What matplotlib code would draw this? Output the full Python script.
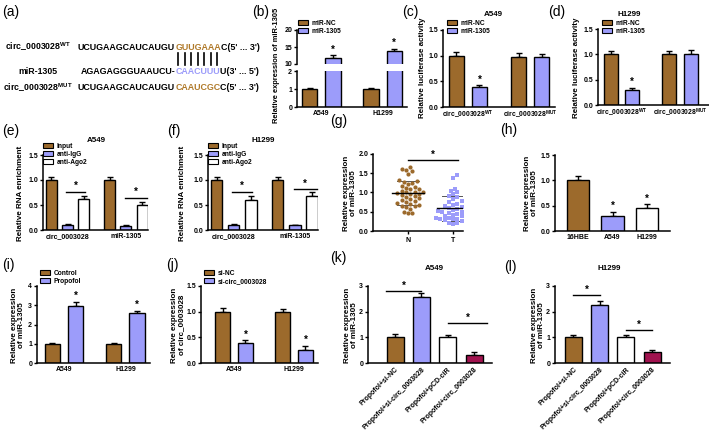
import numpy as np
import matplotlib
matplotlib.use("Agg")
import matplotlib.pyplot as plt
from matplotlib.patches import Patch

W, H = 709, 434
BROWN = "#9C6A2C"
LAV = "#9C9CFA"
CRIMSON = "#A1134F"
ORANGE = "#B07A2A"

plt.rcParams['font.family'] = ['Liberation Sans', 'DejaVu Sans']
plt.rcParams['font.weight'] = 'bold'
plt.rcParams['mathtext.fontset'] = 'custom'
plt.rcParams['mathtext.rm'] = 'Liberation Sans:bold'
plt.rcParams['mathtext.bf'] = 'Liberation Sans:bold'
plt.rcParams['mathtext.it'] = 'Liberation Sans:bold'

TICK, LABEL, LEG, STAR = 5.0, 5.8, 4.8, 7

# ---- data ----
# (a) binding sequences
seq_wt = ["UCUGAAGCAUCAUGU", "GUUGAAA", "C(5' ... 3')"]
seq_mir = ["AGAGAGGGUAAUCU-", "CAACUUU", "U(3' ... 5')"]
seq_mut = ["UCUGAAGCAUCAUGU", "CAAUCGC", "C(5' ... 3')"]

# (b)
b_cells = ["A549", "H1299"]
b_nc, b_nc_err = [1.0, 1.0], [0.06, 0.05]
b_mir, b_mir_err = [11.7, 13.7], [0.9, 0.8]

# (c), (d)
luc_groups = [r"circ_0003028$^{\mathbf{WT}}$", r"circ_0003028$^{\mathbf{MUT}}$"]
c_nc, c_nc_err = [1.0, 0.98], [0.08, 0.08]
c_mir, c_mir_err = [0.38, 0.98], [0.04, 0.06]
d_nc, d_nc_err = [1.0, 1.0], [0.07, 0.07]
d_mir, d_mir_err = [0.29, 1.0], [0.05, 0.08]

# (e), (f)
rip_groups = ["circ_0003028", "miR-1305"]
e_input, e_input_err = [1.0, 1.0], [0.07, 0.07]
e_igg, e_igg_err = [0.1, 0.09], [0.03, 0.02]
e_ago2, e_ago2_err = [0.62, 0.5], [0.06, 0.07]
f_input, f_input_err = [1.0, 1.0], [0.07, 0.07]
f_igg, f_igg_err = [0.1, 0.1], [0.03, 0.01]
f_ago2, f_ago2_err = [0.6, 0.68], [0.08, 0.08]

# (g)
g_normal = [1.65, 1.62, 1.58, 1.55, 1.48, 1.32, 1.30, 1.28, 1.25, 1.22, 1.18, 1.15, 1.12, 1.10,
            1.08, 1.05, 1.02, 1.00, 1.00, 0.98, 0.97, 0.95, 0.93, 0.90, 0.88, 0.85, 0.82, 0.80,
            0.78, 0.75, 0.72, 0.70, 0.68, 0.66, 0.65, 0.62, 0.58, 0.50, 0.48, 0.47]
g_tumor = [1.45, 1.38, 1.10, 1.05, 1.00, 0.95, 0.90, 0.88, 0.82, 0.78, 0.75, 0.70, 0.68, 0.65,
           0.62, 0.60, 0.58, 0.55, 0.55, 0.52, 0.50, 0.50, 0.48, 0.45, 0.45, 0.42, 0.40, 0.38,
           0.35, 0.33, 0.32, 0.30, 0.30, 0.30, 0.28, 0.28, 0.25, 0.22, 0.20, 0.18]

# (h)
h_cells = ["16HBE", "A549", "H1299"]
h_vals, h_err = [1.0, 0.3, 0.45], [0.08, 0.08, 0.08]

# (i), (j)
i_ctrl, i_ctrl_err = [1.0, 1.0], [0.06, 0.04]
i_prop, i_prop_err = [2.95, 2.6], [0.22, 0.1]
j_nc, j_nc_err = [1.0, 1.0], [0.07, 0.05]
j_si, j_si_err = [0.38, 0.25], [0.06, 0.09]

# (k), (l)
rescue_groups = ["Propofol+si-NC", "Propofol+si-circ_0003028", "Propofol+pCD-ciR", "Propofol+circ_0003028"]
k_vals, k_err = [1.0, 2.58, 1.0, 0.31], [0.12, 0.13, 0.09, 0.12]
l_vals, l_err = [1.0, 2.26, 1.0, 0.42], [0.08, 0.16, 0.08, 0.08]
rescue_colors = [BROWN, LAV, "white", CRIMSON]

fig = plt.figure(figsize=(W / 100, H / 100), dpi=100)


def px_axes(x0, x1, y0, y1):
    return fig.add_axes([x0 / W, 1 - y1 / H, (x1 - x0) / W, (y1 - y0) / H])


def ftext(x, y, s, **kw):
    return fig.text(x / W, 1 - y / H, s, **kw)


def style(ax):
    for s in ("top", "right"):
        ax.spines[s].set_visible(False)
    for s in ("left", "bottom"):
        ax.spines[s].set_linewidth(1.1)
    ax.tick_params(axis='y', length=2.5, width=1.0, labelsize=TICK, pad=1.0)
    ax.tick_params(axis='x', length=0, labelsize=TICK, pad=2)


def bars(ax, xs, vals, errs, color, width):
    ax.bar(xs, vals, width, color=color, edgecolor='black', linewidth=1.0, zorder=2)
    ax.errorbar(xs, vals, yerr=[np.zeros(len(vals)), errs], fmt='none', ecolor='black',
                elinewidth=1.0, capsize=2.3, capthick=1.0, zorder=1)


def star(ax, x, y, dy=0.5):
    ax.annotate('*', (x, y), xytext=(0, dy), textcoords='offset points',
                ha='center', va='bottom', fontsize=STAR, annotation_clip=False)


def sig(ax, x0, x1, y):
    ax.plot([x0, x1], [y, y], color='black', lw=1.0, clip_on=False)
    star(ax, (x0 + x1) / 2, y, 0.3)


def legend(x, y, labels, colors):
    handles = [Patch(facecolor=c, edgecolor='black', linewidth=0.8) for c in colors]
    fig.legend(handles, labels, loc='upper left', bbox_to_anchor=(x / W, 1 - y / H),
               frameon=False, fontsize=LEG, handlelength=1.5, handleheight=0.7,
               handletextpad=0.5, labelspacing=0.15, borderpad=0, borderaxespad=0)


def ylab(x, y, s, size=LABEL):
    ftext(x, y, s, rotation=90, ha='center', va='center', fontsize=size,
          linespacing=0.95, multialignment='center')


# ---- panel letters ----
for lab, (x, y) in {"(a)": (2, 12), "(b)": (252, 12), "(c)": (402, 12), "(d)": (548, 12),
                    "(e)": (2, 131), "(f)": (167, 131), "(g)": (330, 121), "(h)": (500, 130),
                    "(i)": (2, 265), "(j)": (166, 265), "(k)": (330, 258), "(l)": (504, 267)}.items():
    ftext(x, y, lab, fontsize=10, fontweight='normal', va='center', ha='left')

# ---- (a) ----
renderer = fig.canvas.get_renderer()
SEQ = 6.4


def seq_row(x, y, parts, colors):
    pos, spans = x, []
    for txt, col in zip(parts, colors):
        t = ftext(pos, y, txt, color=col, fontsize=SEQ, va='center', ha='left')
        w = t.get_window_extent(renderer).width
        spans.append((pos, w))
        pos += w
    return spans


ftext(38, 47, r"circ_0003028$^{\mathbf{WT}}$", fontsize=6.3, ha='center', va='center')
ftext(38, 71, "miR-1305", fontsize=6.3, ha='center', va='center')
ftext(38, 88, r"circ_0003028$^{\mathbf{MUT}}$", fontsize=6.3, ha='center', va='center')
wt_spans = seq_row(78, 47, seq_wt, ["black", ORANGE, "black"])
seq_row(78, 88, seq_mut, ["black", ORANGE, "black"])
seed_x, seed_w = wt_spans[1]
ftext(seed_x, 71, seq_mir[0], fontsize=SEQ, ha='right', va='center')
seq_row(seed_x, 71, seq_mir[1:], [LAV, "black"])
for k in range(len(seq_wt[1])):
    xk = seed_x + (k + 0.5) * seed_w / len(seq_wt[1])
    fig.add_artist(plt.Line2D([xk / W, xk / W], [1 - 53 / H, 1 - 65 / H], color='black', lw=1.2))

# ---- (b) broken axis ----
bx = np.arange(len(b_cells))
bt = px_axes(297, 407, 30, 64)
bb = px_axes(297, 407, 71, 107)
for ax in (bt, bb):
    style(ax)
    bars(ax, bx - 0.19, b_nc, b_nc_err, BROWN, 0.25)
    bars(ax, bx + 0.19, b_mir, b_mir_err, LAV, 0.25)
    ax.set_xlim(-0.4, 1.4)
bt.set_ylim(10, 20)
bt.set_yticks([10, 15, 20])
bt.spines['bottom'].set_visible(False)
bt.set_xticks([])
bb.set_ylim(0, 2)
bb.set_yticks([0, 1, 2])
bb.set_xticks(bx)
bb.set_xticklabels(b_cells)
for x, v, e in zip(bx + 0.19, b_mir, b_mir_err):
    star(bt, x, v + e)
legend(298, 20, ["miR-NC", "miR-1305"], [BROWN, LAV])
ylab(276, 65, "Relative expression of miR-1305", 5.4)

# ---- (c), (d) ----
for (x0, x1, y0, y1, tx, title, nc, nce, mr, mre, lx, right) in [
        (443, 555, 30, 107, 493, "A549", c_nc, c_nc_err, c_mir, c_mir_err, 423, 1.4),
        (598, 709, 29, 105, 629, "H1299", d_nc, d_nc_err, d_mir, d_mir_err, 577, 1.5)]:
    ax = px_axes(x0, x1, y0, y1)
    style(ax)
    ax.tick_params(axis='x', pad=1.5)
    gx = np.arange(2)
    bars(ax, gx - 0.185, nc, nce, BROWN, 0.24)
    bars(ax, gx + 0.185, mr, mre, LAV, 0.24)
    star(ax, gx[0] + 0.185, mr[0] + mre[0])
    ax.set_xlim(-0.4, right)
    ax.set_ylim(0, 1.5)
    ax.set_yticks([0, 0.5, 1.0, 1.5])
    ax.set_xticks(gx)
    ax.set_xticklabels(luc_groups, fontsize=4.9)
    ftext(tx, 15, title, fontsize=LABEL, ha='center', va='center')
    legend(x0 + 4, 20, ["miR-NC", "miR-1305"], [BROWN, LAV])
    ylab(lx, 68, "Relative luciferase activity")

# ---- (e), (f) ----
for (x0, x1, tx, title, inp, inpe, igg, igge, ago, agoe, sigy, lx) in [
        (43, 148, 96, "A549", e_input, e_input_err, e_igg, e_igg_err, e_ago2, e_ago2_err, [0.77, 0.65], 21),
        (208, 318, 263, "H1299", f_input, f_input_err, f_igg, f_igg_err, f_ago2, f_ago2_err, [0.77, 0.82], 183)]:
    ax = px_axes(x0, x1, 155, 230)
    style(ax)
    gx = np.arange(2)
    bars(ax, gx - 0.28, inp, inpe, BROWN, 0.19)
    bars(ax, gx, igg, igge, LAV, 0.19)
    bars(ax, gx + 0.28, ago, agoe, "white", 0.19)
    sig(ax, gx[0] - 0.02, gx[0] + 0.3, sigy[0])
    sig(ax, gx[1] - 0.02, gx[1] + 0.36, sigy[1])
    ax.set_xlim(-0.42, 1.38)
    ax.set_ylim(0, 1.5)
    ax.set_yticks([0, 0.5, 1.0, 1.5])
    ax.set_xticks(gx)
    ax.set_xticklabels(rip_groups)
    ftext(tx, 140, title, fontsize=LABEL, ha='center', va='center')
    legend(x0 + 0, 143, ["Input", "anti-IgG", "anti-Ago2"], [BROWN, LAV, "white"])
    ylab(lx, 193, "Relative RNA enrichment")

# ---- (g) ----
ax = px_axes(373, 463, 154, 231)
style(ax)
ax.tick_params(axis='x', length=2.5, width=1.0)
gxlim, gylim = (-0.78, 1.22), (0, 2.0)
sx = 90 / (gxlim[1] - gxlim[0])
sy = 77 / (gylim[1] - gylim[0])


def swarm(vals, center, d=4.3):
    placed, xs = [], np.zeros(len(vals))
    cands = [0.0] + [s * k * d * 0.5 for k in range(1, 30) for s in (1, -1)]
    for i in np.argsort(vals):
        yp = vals[i] * sy
        for xp in cands:
            if all((xp - a) ** 2 + (yp - b) ** 2 >= d * d for a, b in placed):
                break
        placed.append((xp, yp))
        xs[i] = center + xp / sx
    return xs


for ci, (vals, col, mk) in enumerate([(g_normal, BROWN, 'o'), (g_tumor, LAV, 's')]):
    vals = np.array(vals)
    ax.scatter(swarm(vals, ci), vals, s=9, color=col, marker=mk, linewidths=0, zorder=2)
    m, sd = vals.mean(), vals.std(ddof=1)
    ax.plot([ci - 0.35, ci + 0.35], [m, m], color='black', lw=1.0, zorder=3)
    for v in (m - sd, m + sd):
        ax.plot([ci - 0.24, ci + 0.24], [v, v], color='#555555', lw=0.7, zorder=1)
sig(ax, 0, 1.1, 1.84)
ax.set_xlim(*gxlim)
ax.set_ylim(*gylim)
ax.set_yticks([0, 0.5, 1.0, 1.5, 2.0])
ax.set_xticks([0, 1])
ax.set_xticklabels(["N", "T"])
ylab(350, 193, "Relative expression\nof miR-1305")

# ---- (h) ----
ax = px_axes(555, 670, 155, 231)
style(ax)
hx = np.arange(len(h_cells))
for x, v, e, c in zip(hx, h_vals, h_err, [BROWN, LAV, "white"]):
    bars(ax, [x], [v], [e], c, 0.64)
for x in hx[1:]:
    star(ax, x, h_vals[x] + h_err[x])
ax.set_xlim(-0.67, 2.67)
ax.set_ylim(0, 1.5)
ax.set_yticks([0, 0.5, 1.0, 1.5])
ax.set_xticks(hx)
ax.set_xticklabels(h_cells)
ylab(531, 193, "Relative expression\nof miR-1305")

# ---- (i), (j) ----
for (x0, x1, a, ae, b, be, ylim, ticks, labs, lx, ytxt, left) in [
        (37, 150, i_ctrl, i_ctrl_err, i_prop, i_prop_err, 4, [0, 1, 2, 3, 4],
         ["Control", "Propofol"], 18, "Relative expression\nof miR-1305", -0.44),
        (201, 318, j_nc, j_nc_err, j_si, j_si_err, 1.5, [0, 0.5, 1.0, 1.5],
         ["si-NC", "si-circ_0003028"], 178, "Relative expression\nof circ_0003028", -0.55)]:
    ax = px_axes(x0, x1, 286, 363)
    style(ax)
    gx = np.arange(2)
    bars(ax, gx - 0.19, a, ae, BROWN, 0.25)
    bars(ax, gx + 0.19, b, be, LAV, 0.25)
    for x, v, e in zip(gx + 0.19, b, be):
        star(ax, x, v + e)
    ax.set_xlim(left, 1.4)
    ax.set_ylim(0, ylim)
    ax.set_yticks(ticks)
    ax.set_xticks(gx)
    ax.set_xticklabels(b_cells)
    legend(x0 + 3, 270, labs, [BROWN, LAV])
    ylab(lx, 325, ytxt)

# ---- (k), (l) ----
for (x0, x1, vals, errs, tx, title, lines, left, lx) in [
        (368, 492, k_vals, k_err, 434, "A549", [(-0.35, 1.0, 2.8), (2.0, 3.5, 1.55)], -1.03, 351),
        (555, 670, l_vals, l_err, 609, "H1299", [(0, 1, 2.65), (2, 3, 1.28)], -0.7, 538)]:
    ax = px_axes(x0, x1, 286, 363)
    style(ax)
    kx = np.arange(len(rescue_groups))
    for x, v, e, c in zip(kx, vals, errs, rescue_colors):
        bars(ax, [x], [v], [e], c, 0.65)
    for a, b, y in lines:
        sig(ax, a, b, y)
    ax.set_xlim(left, 3.68)
    ax.set_ylim(0, 3)
    ax.set_yticks([0, 1, 2, 3])
    ax.set_xticks(kx)
    ax.set_xticklabels(rescue_groups, rotation=45, ha='right', rotation_mode='anchor', fontsize=5.0)
    ftext(tx, 269, title, fontsize=LABEL, ha='center', va='center')
    ylab(lx, 325, "Relative expression\nof miR-1305")

fig.savefig("out.png", dpi=100)
